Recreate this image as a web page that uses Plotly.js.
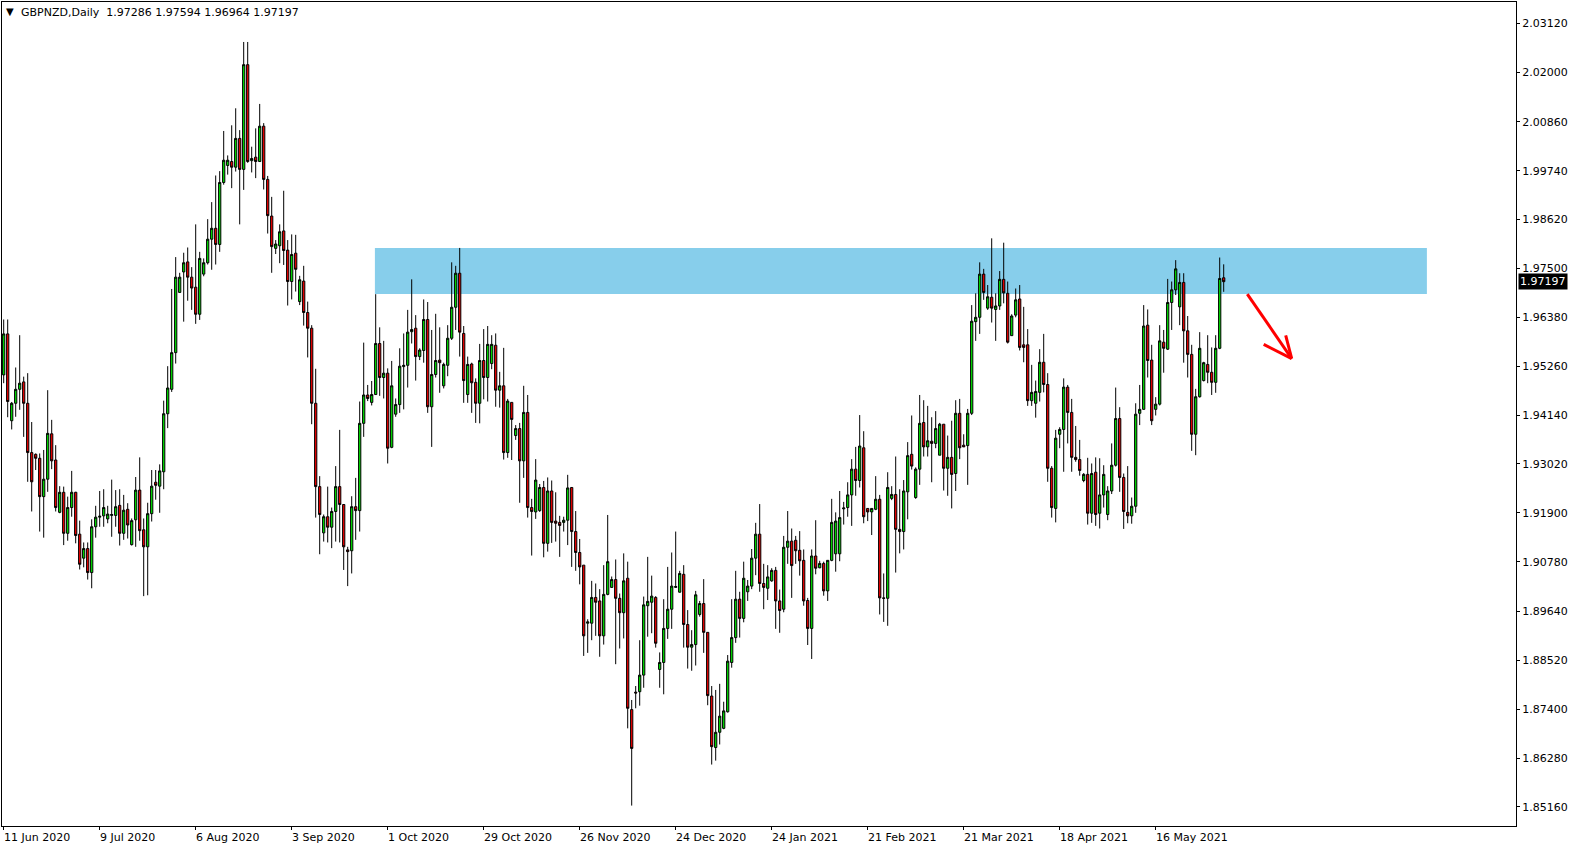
<!DOCTYPE html>
<html>
<head>
<meta charset="utf-8">
<script src="https://cdn.plot.ly/plotly-3.0.1.min.js"></script>
<style>
html,body{margin:0;padding:0;background:#fff;}
#chart{width:1580px;height:850px;}
</style>
</head>
<body>
<div id="chart"></div>
<script>
// ---- data (GBPNZD daily, bar index 0..305) ----
const symbol = 'GBPNZD';
const period = 'Daily';

const open = [
1.9506,1.9600,1.9401,1.9441,1.9473,1.9490,1.9441,1.9328,1.9324,1.9315,1.9227,1.9267,1.9371,1.9311,1.9191,1.9237,1.9143,1.9202,1.9237,1.9141,
1.9086,1.9108,1.9053,1.9158,1.9180,1.9183,1.9176,1.9184,1.9184,1.9207,1.9143,1.9198,1.9117,1.9174,1.9242,1.9151,1.9112,1.9188,1.9260,1.9251,
1.9284,1.9417,1.9473,1.9557,1.9695,1.9742,1.9765,1.9730,1.9707,1.9645,1.9737,1.9763,1.9817,1.9842,1.9805,1.9947,1.9986,1.9995,1.9982,2.0048,
1.9977,2.0217,1.9997,2.0005,1.9995,2.0076,1.9954,1.9870,1.9796,1.9802,1.9836,1.9792,1.9720,1.9785,1.9674,1.9721,1.9649,1.9613,1.9441,1.9250,
1.9144,1.9181,1.9157,1.9193,1.9250,1.9209,1.9105,1.9103,1.9204,1.9195,1.9395,1.9460,1.9443,1.9461,1.9578,1.9500,1.9510,1.9340,1.9416,1.9438,
1.9525,1.9528,1.9605,1.9613,1.9548,1.9562,1.9633,1.9433,1.9507,1.9540,1.9481,1.9528,1.9590,1.9661,1.9739,1.9601,1.9461,1.9531,1.9489,1.9441,
1.9539,1.9500,1.9532,1.9574,1.9471,1.9481,1.9328,1.9443,1.9367,1.9383,1.9309,1.9420,1.9202,1.9192,1.9195,1.9248,1.9120,1.9240,1.9171,1.9168,
1.9168,1.9173,1.9248,1.9147,1.9099,1.9070,1.8937,1.8937,1.8996,1.8988,1.8908,1.9003,1.9019,1.9037,1.8994,1.8961,1.9040,1.8739,1.8779,1.8780,
1.8818,1.8977,1.8985,1.8996,1.8831,1.8847,1.8925,1.8969,1.9019,1.9008,1.9049,1.8934,1.8882,1.8888,1.8957,1.8982,1.8916,1.8770,1.8652,1.8687,
1.8696,1.8734,1.8847,1.8904,1.8992,1.8948,1.9009,1.9022,1.9086,1.9141,1.9028,1.9017,1.9034,1.9058,1.8988,1.8969,1.9111,1.9125,1.9127,1.9104,
1.9081,1.8989,1.8925,1.9091,1.9064,1.9074,1.9011,1.9081,1.9096,1.9096,1.9199,1.9202,1.9231,1.9290,1.9264,1.9339,1.9200,1.9192,1.9198,1.9221,
1.8995,1.8994,1.9223,1.9232,1.9152,1.9147,1.9238,1.9324,1.9225,1.9290,1.9397,1.9341,1.9354,1.9349,1.9322,1.9393,1.9292,1.9317,1.9280,1.9418,
1.9345,1.9344,1.9418,1.9628,1.9638,1.9737,1.9659,1.9684,1.9656,1.9664,1.9725,1.9693,1.9596,1.9643,1.9680,1.9575,1.9575,1.9447,1.9441,1.9466,
1.9535,1.9484,1.9292,1.9200,1.9370,1.9381,1.9478,1.9420,1.9317,1.9312,1.9264,1.9278,1.9189,1.9283,1.9189,1.9231,1.9186,1.9240,1.9299,1.9406,
1.9271,1.9191,1.9183,1.9205,1.9418,1.9427,1.9620,1.9540,1.9427,1.9439,1.9581,1.9565,1.9672,1.9701,1.9662,1.9718,1.9607,1.9553,1.9370,1.9456,
1.9493,1.9530,1.9512,1.9489,1.9567,1.97286];

const high = [
1.9633,1.9633,1.9444,1.9523,1.9597,1.9502,1.9510,1.9398,1.9326,1.9326,1.9334,1.9471,1.9403,1.9345,1.9251,1.9250,1.9227,1.9286,1.9238,1.9172,
1.9122,1.9122,1.9175,1.9206,1.9240,1.9244,1.9206,1.9266,1.9242,1.9244,1.9231,1.9212,1.9177,1.9272,1.9317,1.9177,1.9213,1.9288,1.9288,1.9301,
1.9447,1.9526,1.9703,1.9776,1.9740,1.9786,1.9798,1.9753,1.9851,1.9788,1.9773,1.9863,1.9902,1.9963,1.9973,2.0065,2.0009,2.0078,2.0117,2.0067,
2.0269,2.0269,2.0029,2.0071,2.0127,2.0083,1.9962,1.9914,1.9815,1.9851,1.9928,1.9815,1.9828,1.9827,1.9733,1.9756,1.9674,1.9620,1.9520,1.9274,
1.9186,1.9250,1.9202,1.9297,1.9380,1.9209,1.9112,1.9228,1.9270,1.9445,1.9580,1.9483,1.9492,1.9691,1.9615,1.9584,1.9521,1.9538,1.9452,1.9567,
1.9601,1.9655,1.9725,1.9643,1.9567,1.9679,1.9673,1.9609,1.9646,1.9615,1.9534,1.9620,1.9764,1.9756,1.9797,1.9618,1.9548,1.9534,1.9498,1.9577,
1.9611,1.9618,1.9597,1.9601,1.9513,1.9568,1.9451,1.9443,1.9391,1.9396,1.9481,1.9460,1.9222,1.9313,1.9256,1.9263,1.9271,1.9264,1.9237,1.9183,
1.9181,1.9277,1.9248,1.9194,1.9130,1.9070,1.8946,1.9034,1.9028,1.9015,1.9070,1.9185,1.9044,1.9083,1.9005,1.9097,1.9078,1.8761,1.8793,1.8898,
1.8998,1.9089,1.9046,1.8999,1.8870,1.8992,1.9066,1.9099,1.9147,1.9057,1.9070,1.8967,1.8921,1.9011,1.8988,1.9038,1.8916,1.8793,1.8784,1.8798,
1.8757,1.8864,1.8992,1.9057,1.9009,1.9078,1.9036,1.9107,1.9167,1.9210,1.9073,1.9070,1.9063,1.9066,1.9014,1.9137,1.9194,1.9154,1.9137,1.9148,
1.9106,1.8995,1.9106,1.9173,1.9080,1.9078,1.9081,1.9222,1.9191,1.9240,1.9215,1.9260,1.9313,1.9341,1.9414,1.9377,1.9200,1.9200,1.9274,1.9231,
1.9051,1.9283,1.9251,1.9319,1.9244,1.9265,1.9352,1.9413,1.9294,1.9460,1.9448,1.9435,1.9409,1.9423,1.9396,1.9393,1.9367,1.9401,1.9448,1.9451,
1.9370,1.9428,1.9666,1.9693,1.9764,1.9749,1.9712,1.9819,1.9693,1.9744,1.9809,1.9720,1.9645,1.9704,1.9712,1.9662,1.9611,1.9529,1.9493,1.9565,
1.9600,1.9510,1.9297,1.9380,1.9386,1.9498,1.9483,1.9451,1.9389,1.9357,1.9281,1.9316,1.9303,1.9317,1.9315,1.9299,1.9251,1.9349,1.9477,1.9432,
1.9280,1.9297,1.9225,1.9441,1.9483,1.9666,1.9656,1.9575,1.9455,1.9620,1.9609,1.9726,1.9720,1.9769,1.9739,1.9739,1.9641,1.9575,1.9474,1.9604,
1.9536,1.9597,1.9569,1.9597,1.9775,1.97594];

const low = [
1.9487,1.9409,1.9381,1.9410,1.9426,1.9364,1.9261,1.9193,1.9288,1.9147,1.9133,1.9238,1.9290,1.9193,1.9189,1.9116,1.9126,1.9181,1.9120,1.9060,
1.9065,1.9037,1.9017,1.9133,1.9158,1.9158,1.9166,1.9135,1.9158,1.9115,1.9128,1.9131,1.9115,1.9112,1.9126,1.8999,1.9001,1.9170,1.9220,1.9190,
1.9244,1.9384,1.9467,1.9532,1.9695,1.9628,1.9676,1.9655,1.9623,1.9632,1.9732,1.9759,1.9747,1.9759,1.9788,1.9942,1.9965,1.9934,1.9972,1.9851,
1.9930,1.9992,1.9970,1.9957,1.9995,1.9931,1.9830,1.9740,1.9783,1.9762,1.9758,1.9665,1.9679,1.9697,1.9666,1.9619,1.9546,1.9393,1.9179,1.9095,
1.9124,1.9122,1.9109,1.9124,1.9122,1.9059,1.9022,1.9051,1.9128,1.9147,1.9364,1.9446,1.9436,1.9460,1.9458,1.9452,1.9303,1.9338,1.9410,1.9419,
1.9427,1.9477,1.9578,1.9493,1.9540,1.9534,1.9419,1.9341,1.9500,1.9465,1.9475,1.9503,1.9586,1.9609,1.9548,1.9442,1.9442,1.9419,1.9396,1.9395,
1.9450,1.9445,1.9519,1.9433,1.9431,1.9312,1.9316,1.9311,1.9357,1.9213,1.9270,1.9179,1.9092,1.9176,1.9192,1.9088,1.9101,1.9121,1.9124,1.9089,
1.9147,1.9116,1.9066,1.9057,1.9026,1.8862,1.8869,1.8898,1.8908,1.8860,1.8888,1.9001,1.9018,1.8843,1.8879,1.8902,1.8696,1.8519,1.8742,1.8748,
1.8789,1.8906,1.8914,1.8881,1.8789,1.8774,1.8901,1.8924,1.9018,1.9007,1.8881,1.8833,1.8828,1.8840,1.8952,1.8869,1.8749,1.8613,1.8622,1.8659,
1.8694,1.8732,1.8835,1.8892,1.8904,1.8939,1.8988,1.9015,1.9047,1.9009,1.8969,1.8990,1.9032,1.8924,1.8915,1.8962,1.9073,1.8995,1.9073,1.9046,
1.8977,1.8887,1.8855,1.9049,1.9063,1.9000,1.8988,1.9079,1.9055,1.9079,1.9163,1.9181,1.9160,1.9229,1.9248,1.9166,1.9171,1.9139,1.9196,1.8957,
1.8940,1.8931,1.9219,1.9053,1.9097,1.9106,1.9175,1.9289,1.9222,1.9254,1.9319,1.9319,1.9260,1.9338,1.9322,1.9241,1.9229,1.9200,1.9240,1.9313,
1.9341,1.9254,1.9414,1.9584,1.9600,1.9678,1.9655,1.9626,1.9584,1.9655,1.9670,1.9578,1.9596,1.9638,1.9562,1.9535,1.9435,1.9435,1.9408,1.9445,
1.9466,1.9261,1.9179,1.9168,1.9338,1.9284,1.9349,1.9284,1.9307,1.9275,1.9260,1.9163,1.9167,1.9160,1.9154,1.9202,1.9173,1.9233,1.9296,1.9238,
1.9153,1.9166,1.9165,1.9190,1.9391,1.9427,1.9500,1.9391,1.9413,1.9436,1.9511,1.9563,1.9609,1.9689,1.9620,1.9534,1.9500,1.9332,1.9322,1.9454,
1.9491,1.9487,1.9460,1.9465,1.9565,1.96964];

const close = [
1.9600,1.9445,1.9441,1.9473,1.9487,1.9441,1.9328,1.9261,1.9315,1.9227,1.9267,1.9372,1.9309,1.9202,1.9237,1.9143,1.9202,1.9237,1.9138,1.9072,
1.9108,1.9053,1.9158,1.9180,1.9182,1.9202,1.9187,1.9186,1.9204,1.9143,1.9196,1.9162,1.9172,1.9242,1.9149,1.9112,1.9188,1.9251,1.9253,1.9286,
1.9417,1.9476,1.9557,1.9730,1.9730,1.9763,1.9730,1.9705,1.9645,1.9773,1.9763,1.9817,1.9842,1.9805,1.9947,1.9998,1.9998,1.9982,2.0048,1.9977,
2.0217,1.9995,2.0002,1.9995,2.0076,1.9954,1.9871,1.9800,1.9806,1.9834,1.9791,1.9720,1.9782,1.9748,1.9724,1.9649,1.9613,1.9441,1.9250,1.9186,
1.9181,1.9157,1.9193,1.9250,1.9209,1.9112,1.9101,1.9204,1.9195,1.9395,1.9460,1.9452,1.9461,1.9578,1.9500,1.9510,1.9338,1.9481,1.9438,1.9526,
1.9528,1.9604,1.9610,1.9548,1.9563,1.9633,1.9433,1.9507,1.9539,1.9534,1.9530,1.9590,1.9661,1.9739,1.9604,1.9493,1.9530,1.9488,1.9441,1.9539,
1.9500,1.9576,1.9576,1.9471,1.9481,1.9328,1.9446,1.9404,1.9383,1.9309,1.9420,1.9202,1.9193,1.9265,1.9248,1.9120,1.9240,1.9168,1.9166,1.9161,
1.9173,1.9247,1.9147,1.9099,1.9066,1.8908,1.8940,1.8996,1.8985,1.8908,1.9003,1.9078,1.9037,1.8994,1.8961,1.9034,1.8742,1.8650,1.8777,1.8818,
1.8979,1.8987,1.8999,1.8891,1.8847,1.8925,1.8969,1.9022,1.9021,1.9051,1.8934,1.8882,1.8888,1.9002,1.8982,1.8916,1.8771,1.8654,1.8687,1.8724,
1.8736,1.8850,1.8904,1.8992,1.8948,1.9040,1.9022,1.9086,1.9141,1.9028,1.9019,1.9043,1.9058,1.8988,1.8966,1.9111,1.9125,1.9069,1.9103,1.9080,
1.8988,1.8925,1.9091,1.9063,1.9074,1.9011,1.9081,1.9168,1.9171,1.9179,1.9201,1.9231,1.9290,1.9264,1.9343,1.9181,1.9192,1.9200,1.9221,1.8995,
1.8994,1.9248,1.9232,1.9152,1.9147,1.9240,1.9321,1.9297,1.9290,1.9395,1.9341,1.9355,1.9349,1.9383,1.9393,1.9292,1.9317,1.9278,1.9418,1.9339,
1.9341,1.9418,1.9629,1.9638,1.9737,1.9695,1.9685,1.9659,1.9664,1.9725,1.9694,1.9581,1.9641,1.9678,1.9569,1.9569,1.9447,1.9466,1.9468,1.9535,
1.9484,1.9292,1.9202,1.9361,1.9381,1.9478,1.9420,1.9317,1.9312,1.9287,1.9278,1.9189,1.9280,1.9186,1.9231,1.9278,1.9240,1.9299,1.9406,1.9271,
1.9193,1.9183,1.9205,1.9416,1.9427,1.9618,1.9539,1.9401,1.9439,1.9584,1.9567,1.9672,1.9701,1.9749,1.9718,1.9607,1.9553,1.9370,1.9456,1.9567,
1.9534,1.9512,1.9489,1.9567,1.9727,1.97197];

// time axis labels (every 24 bars)
const dateLabelBars = [0,24,48,72,96,120,144,168,192,216,240,264,288];
const dateLabels = ['11 Jun 2020','9 Jul 2020','6 Aug 2020','3 Sep 2020','1 Oct 2020','29 Oct 2020','26 Nov 2020',
                    '24 Dec 2020','24 Jan 2021','21 Feb 2021','21 Mar 2021','18 Apr 2021','16 May 2021'];

// price axis labels
const priceTicks = [2.0312,2.0200,2.0086,1.9974,1.9862,1.9750,1.9638,1.9526,1.9414,1.9302,1.9190,1.9078,1.8964,1.8852,1.8740,1.8628,1.8516];

// resistance zone (bar index range, price range)
const zoneBars = [92.8, 355.8];
const zonePrices = [1.96914, 1.97968];

// ---- drawing ----
const n = open.length;
const x = open.map((_, i) => i);
const FONT = 'DejaVu Sans, Verdana, sans-serif';

const trace = {
  type: 'candlestick',
  x: x, open: open, high: high, low: low, close: close,
  increasing: {line: {color: '#000000', width: 1}, fillcolor: '#00e000'},
  decreasing: {line: {color: '#000000', width: 1}, fillcolor: '#ee0000'},
  whiskerwidth: 0,
  hoverinfo: 'skip',
  showlegend: false
};

const annotations = [];
dateLabelBars.forEach((b, k) => {
  annotations.push({
    x: b, xref: 'x', y: 0, yref: 'paper',
    xanchor: 'left', yanchor: 'top', xshift: -2, yshift: -3,
    text: dateLabels[k], showarrow: false,
    font: {family: FONT, size: 11, color: '#000'}
  });
});

const last = n - 1;
annotations.push({
  x: 1, xref: 'paper', xanchor: 'left', xshift: 2,
  y: close[last], yref: 'y', yanchor: 'middle',
  text: close[last].toFixed(5), showarrow: false,
  bgcolor: '#000000', borderpad: 1,
  font: {family: FONT, size: 11, color: '#ffffff'}
});
annotations.push({
  x: 0, xref: 'paper', xanchor: 'left', xshift: 2,
  y: 1, yref: 'paper', yanchor: 'top', yshift: -2,
  text: '▼', showarrow: false,
  font: {family: FONT, size: 10, color: '#000'}
});
annotations.push({
  x: 0, xref: 'paper', xanchor: 'left', xshift: 17,
  y: 1, yref: 'paper', yanchor: 'top', yshift: -2,
  text: symbol + ',' + period + '&nbsp; ' + [open[last], high[last], low[last], close[last]].map(v => v.toFixed(5)).join(' '),
  showarrow: false,
  font: {family: FONT, size: 11, color: '#000'}
});

const shapes = [
  {type: 'rect', xref: 'x', yref: 'y', layer: 'below',
   x0: zoneBars[0], x1: zoneBars[1], y0: zonePrices[0], y1: zonePrices[1],
   fillcolor: '#87ceeb', line: {width: 0}},
  // red arrow
  {type: 'line', xref: 'x', yref: 'y', x0: 310.9, y0: 1.96911, x1: 322.0, y1: 1.95435, line: {color: '#ff0000', width: 3}},
  {type: 'line', xref: 'x', yref: 'y', x0: 315.0, y0: 1.95758, x1: 322.0, y1: 1.95435, line: {color: '#ff0000', width: 3}},
  {type: 'line', xref: 'x', yref: 'y', x0: 320.5, y0: 1.95965, x1: 322.0, y1: 1.95435, line: {color: '#ff0000', width: 3}}
];

const layout = {
  width: 1580, height: 850,
  margin: {l: 2, r: 64, t: 2, b: 24, pad: 0},
  paper_bgcolor: '#ffffff', plot_bgcolor: '#ffffff',
  showlegend: false,
  boxgap: 0.2,
  font: {family: FONT, size: 11, color: '#000'},
  xaxis: {
    range: [-0.425, 378.075], rangeslider: {visible: false},
    showgrid: false, zeroline: false,
    showline: true, mirror: true, linecolor: '#000', linewidth: 1,
    tickmode: 'array', tickvals: dateLabelBars, ticks: 'outside', ticklen: 3, tickcolor: '#000',
    showticklabels: false, fixedrange: true
  },
  yaxis: {
    side: 'right', range: [1.84722, 2.03606],
    showgrid: false, zeroline: false,
    showline: true, mirror: true, linecolor: '#000', linewidth: 1,
    tickmode: 'array', tickvals: priceTicks, ticktext: priceTicks.map(v => v.toFixed(5)),
    ticks: 'outside', ticklen: 3, tickcolor: '#000',
    tickfont: {family: FONT, size: 11, color: '#000'}, fixedrange: true
  },
  annotations: annotations,
  shapes: shapes
};

Plotly.newPlot('chart', [trace], layout, {displayModeBar: false, staticPlot: true});
</script>
</body>
</html>
